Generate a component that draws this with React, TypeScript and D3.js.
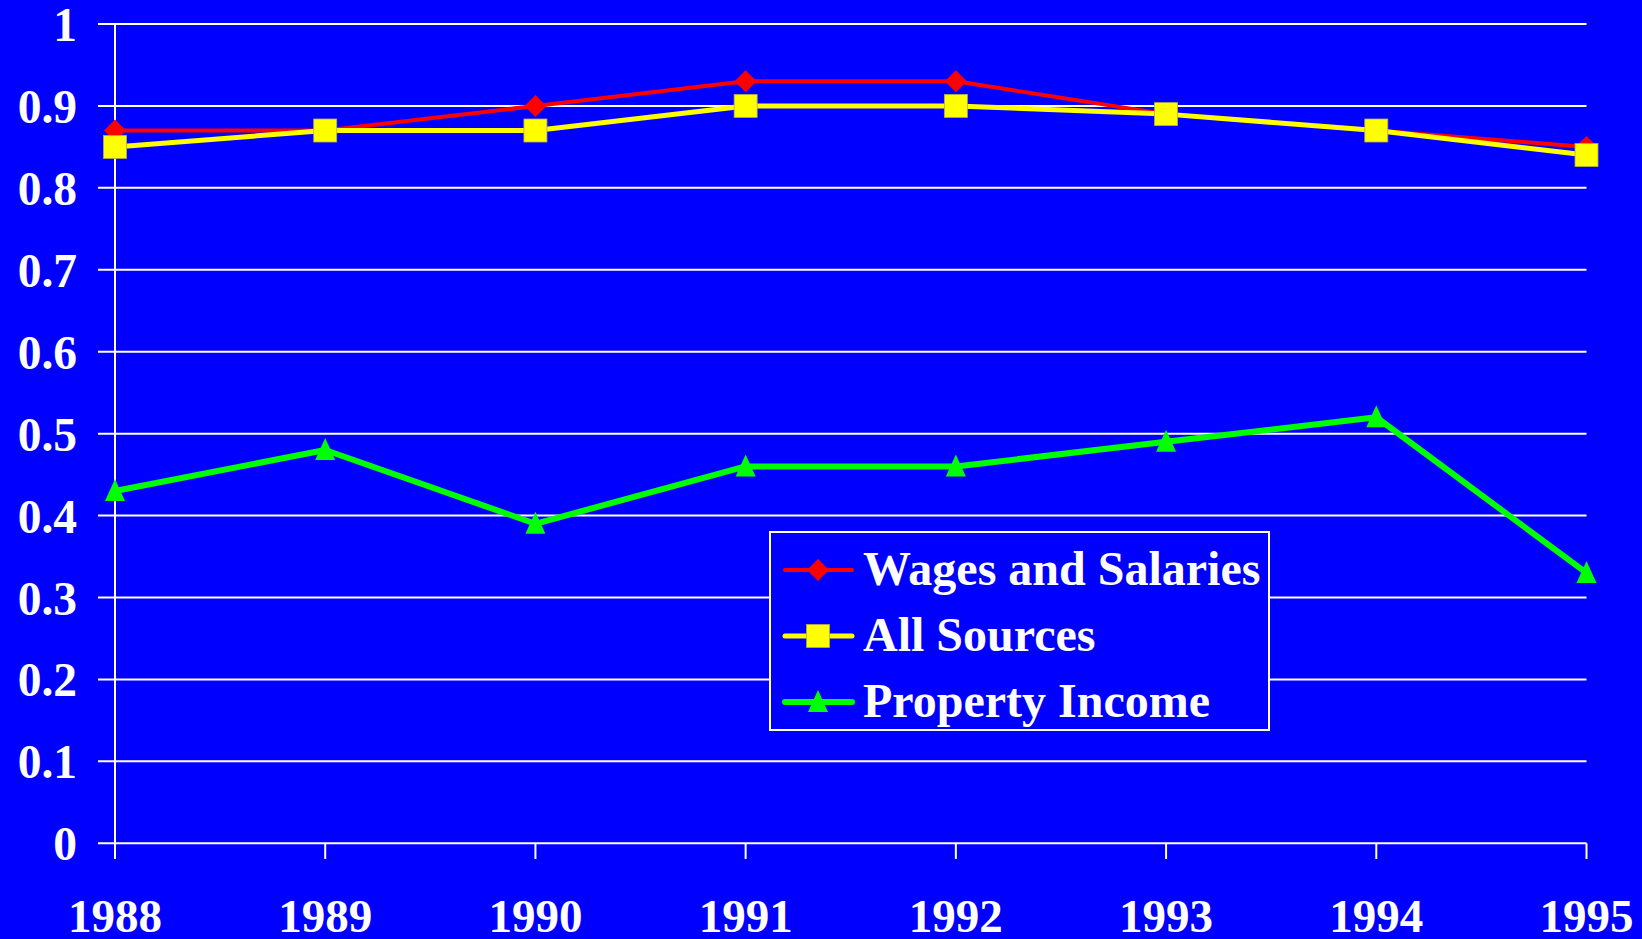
import React from "react";
import * as d3 from "d3";

const years = ["1988", "1989", "1990", "1991", "1992", "1993", "1994", "1995"];
const wages = [0.87, 0.87, 0.9, 0.93, 0.93, 0.89, 0.87, 0.85];
const allSources = [0.85, 0.87, 0.87, 0.9, 0.9, 0.89, 0.87, 0.84];
const property = [0.43, 0.48, 0.39, 0.46, 0.46, 0.49, 0.52, 0.33];
const yTicks = [0, 0.1, 0.2, 0.3, 0.4, 0.5, 0.6, 0.7, 0.8, 0.9, 1];
const seriesNames = ["Wages and Salaries", "All Sources", "Property Income"];

const W = 1642;
const H = 939;
const FONT = "'Liberation Serif', 'Times New Roman', serif";

export default function App() {
  const x = d3.scalePoint<string>().domain(years).range([115, 1586.5]);
  const y = d3.scaleLinear().domain([0, 1]).range([843.3, 24]);

  const line = d3
    .line<number>()
    .x((_, i) => x(years[i]) as number)
    .y((d) => y(d));

  const series = [
    { name: seriesNames[0], data: wages, color: "#ff0000", width: 4, marker: "diamond" },
    { name: seriesNames[1], data: allSources, color: "#ffff00", width: 5, marker: "square" },
    { name: seriesNames[2], data: property, color: "#00ff00", width: 6, marker: "triangle" },
  ];

  const marker = (type: string, cx: number, cy: number, color: string, key: string) => {
    if (type === "diamond") {
      const r = 11;
      return (
        <path
          key={key}
          d={`M${cx},${cy - r}L${cx + r},${cy}L${cx},${cy + r}L${cx - r},${cy}Z`}
          fill={color}
        />
      );
    }
    if (type === "square") {
      const s = 23;
      return (
        <rect
          key={key}
          x={cx - s / 2}
          y={cy - s / 2}
          width={s}
          height={s}
          fill={color}
          stroke="#b0b040"
          strokeWidth={0.8}
        />
      );
    }
    const hw = 10;
    return (
      <path
        key={key}
        d={`M${cx},${cy - 12}L${cx + hw},${cy + 10}L${cx - hw},${cy + 10}Z`}
        fill={color}
      />
    );
  };

  const legendX = 770;
  const legendY = 532;
  const legendW = 499;
  const legendH = 198;
  const rowYs = [570, 636, 702];

  return (
    <svg
      width={W}
      height={H}
      style={{ position: "absolute", left: 0, top: 0, display: "block" }}
    >
      <rect x={0} y={0} width={W} height={H} fill="#0000ff" />
      {/* gridlines */}
      {yTicks.map((t) => (
        <line
          key={"g" + t}
          x1={98}
          x2={1586.5}
          y1={y(t)}
          y2={y(t)}
          stroke="#ffffff"
          strokeWidth={2}
        />
      ))}
      {/* y axis */}
      <line x1={115} x2={115} y1={y(1)} y2={859} stroke="#ffffff" strokeWidth={2} />
      {/* x ticks */}
      {years.map((yr) => (
        <line
          key={"t" + yr}
          x1={x(yr)}
          x2={x(yr)}
          y1={y(0)}
          y2={859}
          stroke="#ffffff"
          strokeWidth={2}
        />
      ))}
      {/* y labels */}
      {yTicks.map((t) => (
        <text
          key={"yl" + t}
          x={77}
          y={y(t) + 17}
          textAnchor="end"
          fill="#ffffff"
          fontFamily={FONT}
          fontWeight="bold"
          fontSize={47.5}
        >
          {t === 0 || t === 1 ? String(t) : t.toFixed(1)}
        </text>
      ))}
      {/* x labels */}
      {years.map((yr) => (
        <text
          key={"xl" + yr}
          x={x(yr)}
          y={932}
          textAnchor="middle"
          fill="#ffffff"
          fontFamily={FONT}
          fontWeight="bold"
          fontSize={47}
        >
          {yr}
        </text>
      ))}
      {/* series */}
      {series.map((s) => (
        <g key={s.name}>
          <path
            d={line(s.data) || ""}
            fill="none"
            stroke={s.color}
            strokeWidth={s.width}
            strokeLinejoin="round"
          />
          {s.data.map((v, i) =>
            marker(s.marker, x(years[i]) as number, y(v), s.color, s.name + i)
          )}
        </g>
      ))}
      {/* legend */}
      <rect
        x={legendX}
        y={legendY}
        width={legendW}
        height={legendH}
        fill="#0000ff"
        stroke="#ffffff"
        strokeWidth={2}
      />
      {series.map((s, i) => (
        <g key={"lg" + s.name}>
          <line
            x1={785}
            x2={852}
            y1={rowYs[i]}
            y2={rowYs[i]}
            stroke={s.color}
            strokeWidth={s.width}
            strokeLinecap="round"
          />
          {marker(s.marker, 818, rowYs[i], s.color, "lm" + i)}
          <text
            x={863}
            y={rowYs[i] + 15}
            fill="#ffffff"
            fontFamily={FONT}
            fontWeight="bold"
            fontSize={48}
          >
            {s.name}
          </text>
        </g>
      ))}
    </svg>
  );
}
